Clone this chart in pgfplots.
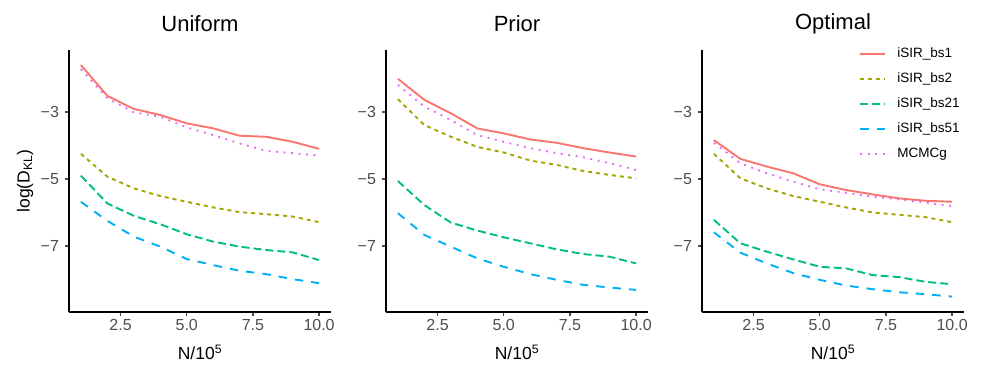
\documentclass[border=0pt]{standalone}
\usepackage{fontspec}
\setmainfont{Liberation Sans}
\usepackage{pgfplots}
\pgfplotsset{compat=1.18}

\definecolor{cbsone}{HTML}{F8766D}
\definecolor{cbstwo}{HTML}{A3A500}
\definecolor{cbstwoone}{HTML}{00BF7D}
\definecolor{cbsfive}{HTML}{00B0F6}
\definecolor{cmcmc}{HTML}{E76BF3}
\definecolor{grey30}{HTML}{4D4D4D}

\tikzset{
  sbs1/.style={color=cbsone, line width=1.9pt, solid},
  sbs2/.style={color=cbstwo, line width=1.9pt, dash pattern=on 4pt off 4pt},
  sbs21/.style={color=cbstwoone, line width=1.9pt, dash pattern=on 8pt off 4pt},
  sbs51/.style={color=cbsfive, line width=1.9pt, dash pattern=on 8.5pt off 8pt},
  smcmc/.style={color=cmcmc, line width=1.9pt, dash pattern=on 1.9pt off 5.6pt},
}

\pgfplotsset{
  panel/.style={
    scale only axis, width=262pt, height=262pt,
    xmin=0.55, xmax=10.45, ymin=-8.97, ymax=-1.15,
    axis x line*=bottom, axis y line*=left,
    axis line style={-, line width=1.8pt, black},
    xtick={2.5,5,7.5,10}, xticklabels={2.5,5.0,7.5,10.0},
    ytick={-7,-5,-3}, yticklabels={−7,−5,−3},
    tick align=outside, major tick length=4pt,
    tick style={line width=1.4pt, color=grey30},
    tick label style={font=\fontsize{16}{16}\selectfont, text=grey30},
    yticklabel style={xshift=-2.5pt},
    title style={font=\fontsize{22}{22}\selectfont, at={(0.5,1.076)}, anchor=center},
    xlabel={N/10\textsuperscript{5}},
    xlabel style={at={(0.5,-0.153)}, anchor=center, font=\fontsize{17.5}{18}\selectfont},
  },
}

\begin{document}
\begin{tikzpicture}[x=1pt,y=1pt]
\path[use as bounding box] (0,0) rectangle (997,374);

% Uniform
\begin{axis}[panel, at={(69pt,62pt)}, anchor=south west, title={Uniform},
  ylabel={log(D\textsubscript{KL})},
  ylabel style={at={(-0.168,0.5)}, anchor=center, font=\fontsize{17.5}{18}\selectfont}]
\addplot[sbs1] coordinates {(1,-1.60) (2,-2.52) (3,-2.91) (4,-3.09) (5,-3.34) (6,-3.49) (7,-3.71) (8,-3.74) (9,-3.89) (10,-4.10)};
\addplot[sbs2] coordinates {(1,-4.25) (2,-4.93) (3,-5.28) (4,-5.51) (5,-5.68) (6,-5.85) (7,-5.99) (8,-6.05) (9,-6.12) (10,-6.29)};
\addplot[sbs21] coordinates {(1,-4.90) (2,-5.73) (3,-6.10) (4,-6.35) (5,-6.65) (6,-6.87) (7,-7.02) (8,-7.12) (9,-7.19) (10,-7.42)};
\addplot[sbs51] coordinates {(1,-5.68) (2,-6.25) (3,-6.72) (4,-7.02) (5,-7.39) (6,-7.57) (7,-7.74) (8,-7.84) (9,-7.99) (10,-8.11)};
\addplot[smcmc] coordinates {(1,-1.72) (2,-2.59) (3,-3.01) (4,-3.14) (5,-3.46) (6,-3.69) (7,-3.94) (8,-4.16) (9,-4.23) (10,-4.30)};
\end{axis}

% Prior
\begin{axis}[panel, at={(386pt,62pt)}, anchor=south west, title={Prior}]
\addplot[sbs1] coordinates {(1,-2.01) (2,-2.64) (3,-3.04) (4,-3.49) (5,-3.64) (6,-3.82) (7,-3.92) (8,-4.08) (9,-4.21) (10,-4.33)};
\addplot[sbs2] coordinates {(1,-2.62) (2,-3.39) (3,-3.74) (4,-4.04) (5,-4.21) (6,-4.45) (7,-4.58) (8,-4.76) (9,-4.88) (10,-4.98)};
\addplot[sbs21] coordinates {(1,-5.06) (2,-5.78) (3,-6.30) (4,-6.54) (5,-6.74) (6,-6.92) (7,-7.10) (8,-7.24) (9,-7.32) (10,-7.52)};
\addplot[sbs51] coordinates {(1,-6.02) (2,-6.67) (3,-7.02) (4,-7.37) (5,-7.62) (6,-7.84) (7,-8.01) (8,-8.16) (9,-8.24) (10,-8.31)};
\addplot[smcmc] coordinates {(1,-2.19) (2,-2.84) (3,-3.24) (4,-3.69) (5,-3.89) (6,-4.08) (7,-4.23) (8,-4.35) (9,-4.53) (10,-4.73)};
\end{axis}

% Optimal
\begin{axis}[panel, at={(702pt,62pt)}, anchor=south west, title={Optimal},
  legend cell align=left,
  legend image code/.code={\draw[#1] (0pt,0pt) -- (25pt,0pt);},
  legend style={at={(0.6,1.012)}, anchor=north west, draw=none, fill=none,
    inner sep=0pt, column sep=11pt, row sep=12pt,
    font=\fontsize{13.5}{14}\selectfont,
    nodes={inner sep=0pt, text height=10pt, text depth=3pt}}]
\addplot[sbs1] coordinates {(1,-3.84) (2,-4.40) (3,-4.63) (4,-4.83) (5,-5.16) (6,-5.33) (7,-5.46) (8,-5.58) (9,-5.65) (10,-5.68)};
\addlegendentry{iSIR\_bs1}
\addplot[sbs2] coordinates {(1,-4.25) (2,-4.98) (3,-5.28) (4,-5.51) (5,-5.68) (6,-5.85) (7,-6.00) (8,-6.07) (9,-6.14) (10,-6.29)};
\addlegendentry{iSIR\_bs2}
\addplot[sbs21] coordinates {(1,-6.22) (2,-6.92) (3,-7.17) (4,-7.40) (5,-7.62) (6,-7.67) (7,-7.87) (8,-7.93) (9,-8.07) (10,-8.14)};
\addlegendentry{iSIR\_bs21}
\addplot[sbs51] coordinates {(1,-6.59) (2,-7.20) (3,-7.52) (4,-7.81) (5,-8.01) (6,-8.18) (7,-8.29) (8,-8.38) (9,-8.44) (10,-8.51)};
\addlegendentry{iSIR\_bs51}
\addplot[smcmc] coordinates {(1,-3.92) (2,-4.53) (3,-4.83) (4,-5.08) (5,-5.31) (6,-5.41) (7,-5.53) (8,-5.61) (9,-5.71) (10,-5.81)};
\addlegendentry{MCMCg}
\end{axis}
\end{tikzpicture}
\end{document}
